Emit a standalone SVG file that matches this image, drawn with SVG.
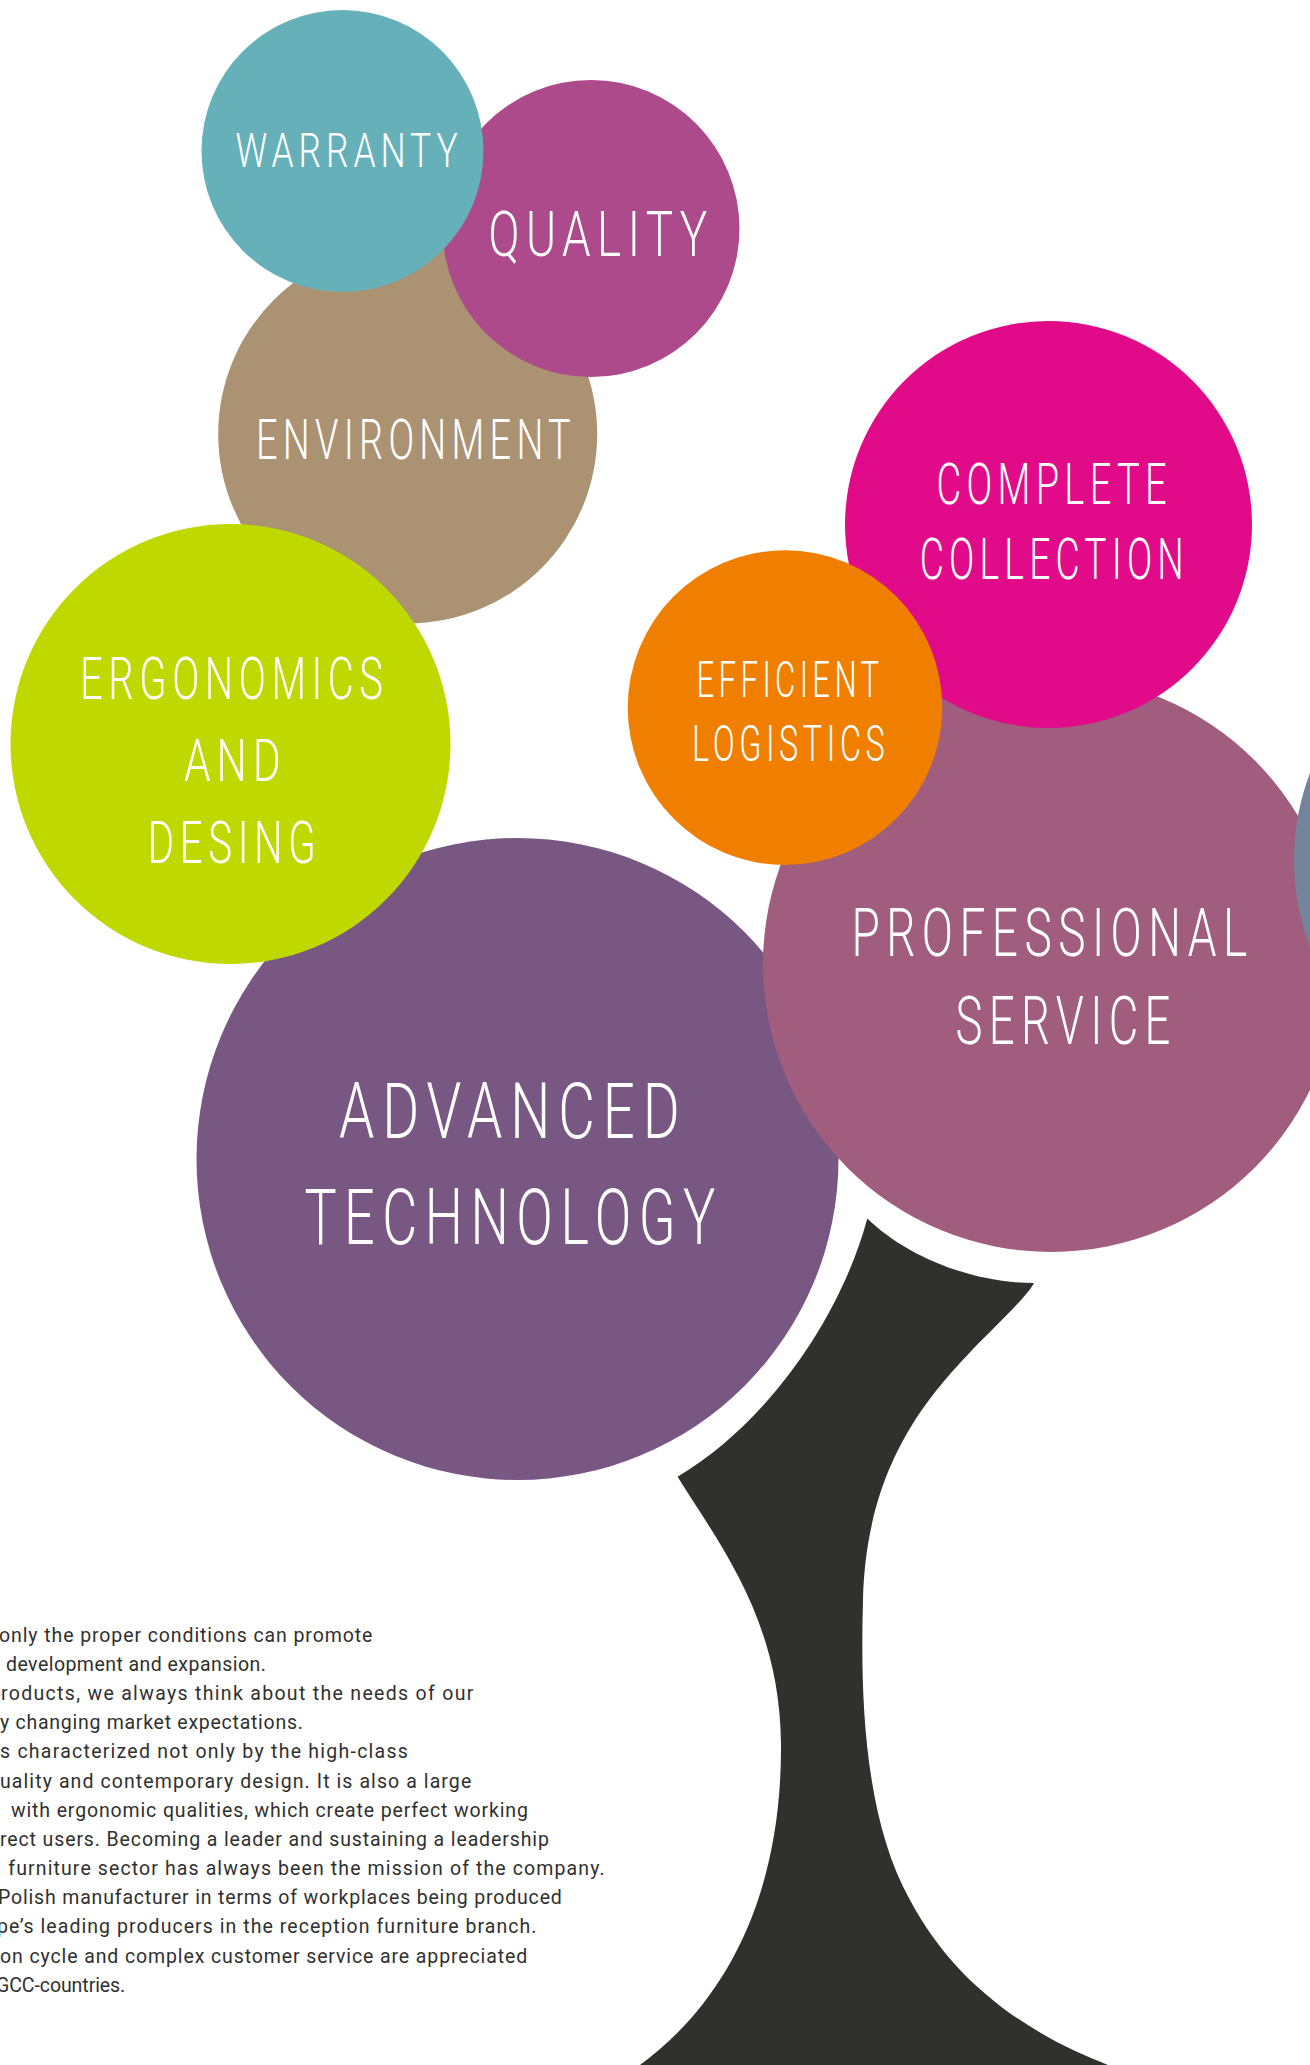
<svg xmlns="http://www.w3.org/2000/svg" width="1310" height="2065" viewBox="0 0 1310 2065">
<style>
.h{font-family:Roboto,"Liberation Sans",sans-serif;font-weight:300;fill:#ffffff;letter-spacing:0.14em}
.b{font-family:Roboto,"Liberation Sans",sans-serif;font-weight:400;font-size:19.5px;fill:#30302e;letter-spacing:0.06em}
</style>
<rect width="1310" height="2065" fill="#ffffff"/>
<g id="trunk">
<path fill="#30302e" d="M677.6,1476.8 C765,1425 840,1320 867.3,1218.4 C905,1255 970,1283 1034,1283 C1028,1295 1000,1322 973,1349 C935,1390 866,1460 863,1600 C860,1700 865,1820 910,1900 C955,1985 1030,2035 1108,2065 L1115,2070 L635,2070 L640,2065 C715,2010 782,1910 781,1744 C780,1620 720,1545 677.6,1476.8 Z"/>
</g>
<g id="environment">
<circle cx="407.7" cy="434" r="189.5" fill="#ab9273"/>
<text class="h" x="256" y="458.8" font-size="55" textLength="320" lengthAdjust="spacingAndGlyphs">ENVIRONMENT</text>
</g>
<g id="quality">
<circle cx="591" cy="228.5" r="148.5" fill="#ad4a8b"/>
<text class="h" x="488.6" y="255.5" font-size="62.5" textLength="225" lengthAdjust="spacingAndGlyphs">QUALITY</text>
</g>
<g id="warranty">
<circle cx="342.5" cy="151" r="141" fill="#66b1b9"/>
<text class="h" x="235.6" y="166.5" font-size="47.5" textLength="227" lengthAdjust="spacingAndGlyphs">WARRANTY</text>
</g>
<g id="advanced-technology">
<circle cx="517.5" cy="1159" r="321" fill="#785783"/>
<text class="h" x="339" y="1137.8" font-size="77" textLength="348.5" lengthAdjust="spacingAndGlyphs">ADVANCED</text>
<text class="h" x="304.4" y="1244" font-size="77" textLength="418.5" lengthAdjust="spacingAndGlyphs">TECHNOLOGY</text>
</g>
<g id="ergonomics">
<circle cx="230.5" cy="744" r="220" fill="#bfd900"/>
<text class="h" x="80" y="699" font-size="60" textLength="308.6" lengthAdjust="spacingAndGlyphs">ERGONOMICS</text>
<text class="h" x="184" y="780.6" font-size="60" textLength="102.6" lengthAdjust="spacingAndGlyphs">AND</text>
<text class="h" x="147.8" y="862.8" font-size="60" textLength="173.6" lengthAdjust="spacingAndGlyphs">DESING</text>
</g>
<g id="professional-service">
<circle cx="1051" cy="964" r="288" fill="#a15d7d"/>
<text class="h" x="851.4" y="955.8" font-size="66" textLength="402.3" lengthAdjust="spacingAndGlyphs">PROFESSIONAL</text>
<text class="h" x="955.5" y="1044" font-size="66" textLength="221.3" lengthAdjust="spacingAndGlyphs">SERVICE</text>
</g>
<g id="edge-circle">
<circle cx="1538.5" cy="860" r="244.5" fill="#74849c"/>
</g>
<g id="complete-collection">
<circle cx="1048.5" cy="524.5" r="203.5" fill="#e10a89"/>
<text class="h" x="936.5" y="504.2" font-size="57" textLength="235.3" lengthAdjust="spacingAndGlyphs">COMPLETE</text>
<text class="h" x="919.7" y="579.4" font-size="57" textLength="269.3" lengthAdjust="spacingAndGlyphs">COLLECTION</text>
</g>
<g id="efficient-logistics">
<circle cx="785" cy="707.6" r="157.3" fill="#f07f00"/>
<text class="h" x="696.5" y="697" font-size="49.5" textLength="187" lengthAdjust="spacingAndGlyphs">EFFICIENT</text>
<text class="h" x="692" y="760.6" font-size="49.5" textLength="197.4" lengthAdjust="spacingAndGlyphs">LOGISTICS</text>
</g>
<g id="connectors"></g>
<g id="body-text">
<text class="b" x="-1" y="1641.7" textLength="374.5" lengthAdjust="spacing">only the proper conditions can promote</text>
<text class="b" x="6" y="1670.9" textLength="261" lengthAdjust="spacing">development and expansion.</text>
<text class="b" x="1" y="1700" textLength="473.5" lengthAdjust="spacing">roducts, we always think about the needs of our</text>
<text class="b" x="0" y="1729.2" textLength="304" lengthAdjust="spacing">y changing market expectations.</text>
<text class="b" x="0" y="1758.4" textLength="409" lengthAdjust="spacing">s characterized not only by the high-class</text>
<text class="b" x="0" y="1787.6" textLength="472.4" lengthAdjust="spacing">uality and contemporary design. It is also a large</text>
<text class="b" x="11" y="1816.7" textLength="518" lengthAdjust="spacing">with ergonomic qualities, which create perfect working</text>
<text class="b" x="0" y="1845.9" textLength="550" lengthAdjust="spacing">rect users. Becoming a leader and sustaining a leadership</text>
<text class="b" x="8.3" y="1875" textLength="597.5" lengthAdjust="spacing">furniture sector has always been the mission of the company.</text>
<text class="b" x="-2" y="1904.2" textLength="565" lengthAdjust="spacing">Polish manufacturer in terms of workplaces being produced</text>
<text class="b" x="-3" y="1933.4" textLength="540.6" lengthAdjust="spacing">pe’s leading producers in the reception furniture branch.</text>
<text class="b" x="0" y="1962.5" textLength="528.4" lengthAdjust="spacing">on cycle and complex customer service are appreciated</text>
<text class="b" x="-4" y="1991.7" textLength="130.4" lengthAdjust="spacing">GCC-countries.</text>
</g>
</svg>
